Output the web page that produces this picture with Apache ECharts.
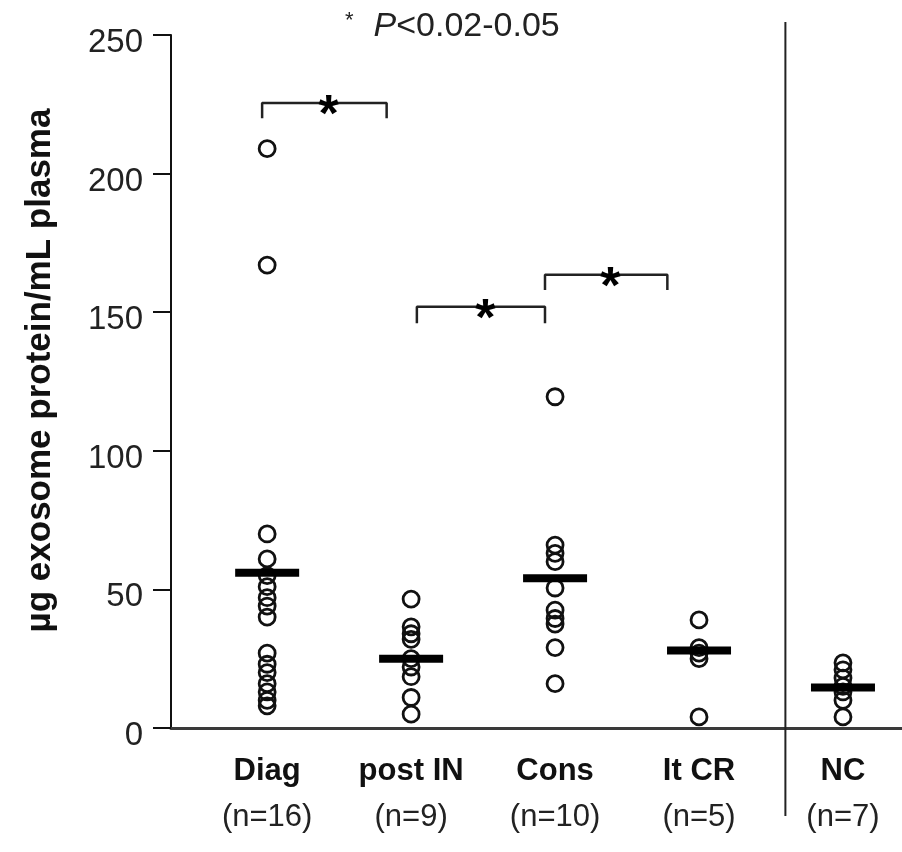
<!DOCTYPE html>
<html>
<head>
<meta charset="utf-8">
<script src="https://cdn.jsdelivr.net/npm/echarts@6/dist/echarts.min.js"></script>
<style>
html,body{margin:0;padding:0;background:#fff;}
#chart{width:902px;height:852px;}
</style>
</head>
<body>
<div id="chart"></div>
<script>
// ---- data ----
const categories = ['Diag', 'post IN', 'Cons', 'It CR', 'NC'];
const nLabels = ['(n=16)', '(n=9)', '(n=10)', '(n=5)', '(n=7)'];
const diag = [209, 167, 70, 61, 55, 51, 47, 44, 40, 27, 23, 20, 16, 13, 10, 8];
const postIN = [46.5, 36.5, 34, 32, 25, 22, 18.5, 11, 5];
const cons = [119.5, 66, 63, 60, 50.5, 42.5, 39.5, 37.5, 29, 16];
const itCR = [39, 29, 27, 25, 4];
const nc = [23.5, 21, 18, 15, 13, 10, 4];
const groupMeans = [56, 25, 54, 28, 14.6];
const yMin = 0, yMax = 250, yStep = 50;
// significance brackets: [xLeft, xRight, top value, leg bottom value]
const brackets = [
  [0.965, 1.83, 225.5, 220],
  [2.04, 2.93, 152, 146],
  [2.93, 3.78, 163.5, 158]
];
const dividerX = 4.6;
const titleParts = ['*', 'P', '<0.02-0.05'];

// ---- build ----
const groups = [diag, postIN, cons, itCR, nc];
const pointData = [];
groups.forEach((g, i) => g.forEach(v => pointData.push([i + 1, v])));
const meanData = groupMeans.map((m, i) => [i + 1, m]);

const FONT = 'Liberation Sans, Arial, Helvetica, sans-serif';
const series = [
  {
    type: 'scatter', data: pointData, symbol: 'circle', symbolSize: 16,
    itemStyle: { color: 'rgba(0,0,0,0)', borderColor: '#111', borderWidth: 2.8, opacity: 1 },
    z: 3
  },
  {
    type: 'scatter', data: meanData, symbol: 'rect', symbolSize: [64, 8],
    itemStyle: { color: '#000', opacity: 1 }, z: 4
  }
];
brackets.forEach(b => {
  series.push({
    type: 'line', symbol: 'none', silent: true,
    data: [[b[0], b[3]], [b[0], b[2]], [b[1], b[2]], [b[1], b[3]]],
    lineStyle: { color: '#222', width: 2.5 }, z: 2
  });
});
series.push({
  type: 'scatter', symbolSize: 1,
  itemStyle: { color: 'rgba(0,0,0,0)', opacity: 1 },
  data: brackets.map(b => [(b[0] + b[1]) / 2 + 0.03, b[2]]),
  label: {
    show: true, position: 'inside', formatter: '*',
    fontSize: 52, fontWeight: 'bold', color: '#000', fontFamily: FONT,
    offset: [0, 14]
  }, z: 5
});

const chart = echarts.init(document.getElementById('chart'));
chart.setOption({
  backgroundColor: '#fff',
  animation: false,
  textStyle: { fontFamily: FONT },
  title: {
    text: '{s|' + titleParts[0] + '}{g|}{p|' + titleParts[1] + '}{t|' + titleParts[2] + '}',
    left: 340, top: 5,
    textStyle: {
      fontWeight: 'normal',
      rich: {
        s: { fontSize: 22, color: '#222', fontFamily: FONT, verticalAlign: 'top', fontWeight: 'normal' },
        g: { width: 20 },
        p: { fontSize: 34, fontStyle: 'italic', color: '#222', fontFamily: FONT, fontWeight: 'normal' },
        t: { fontSize: 34, color: '#222', fontFamily: FONT, fontWeight: 'normal' }
      }
    }
  },
  grid: { left: 171, right: 0, top: 35, bottom: 124, containLabel: false },
  xAxis: {
    type: 'value', min: 0.332, max: 5.41,
    axisLine: { show: true, onZero: false, lineStyle: { color: '#3a3a3a', width: 3 } },
    axisTick: { show: false },
    splitLine: { show: false },
    axisLabel: {
      customValues: [1, 2, 3, 4, 5],
      margin: 20,
      formatter: v => '{b|' + categories[Math.round(v) - 1] + '}\n{n|' + nLabels[Math.round(v) - 1] + '}',
      rich: {
        b: { fontSize: 31, fontWeight: 'bold', color: '#111', lineHeight: 46, fontFamily: FONT },
        n: { fontSize: 31, color: '#222', lineHeight: 46, fontFamily: FONT }
      }
    }
  },
  yAxis: {
    type: 'value', min: yMin, max: yMax, interval: yStep,
    axisLine: { show: true, onZero: false, lineStyle: { color: '#111', width: 2 } },
    axisTick: { show: true, length: 18, lineStyle: { color: '#111', width: 2 } },
    splitLine: { show: false },
    axisLabel: {
      margin: 28,
      formatter: '{a|{value}}',
      rich: { a: { fontSize: 33, color: '#222', fontFamily: FONT, padding: [16, 0, 0, 0] } }
    },
    name: 'µg exosome protein/mL plasma',
    nameLocation: 'middle', nameGap: 113,
    nameTextStyle: { fontSize: 35, fontWeight: 'bold', color: '#111', fontFamily: FONT, padding: [0, 0, 0, 22] }
  },
  series: series
});

const dx = chart.convertToPixel({ xAxisIndex: 0 }, dividerX);
chart.setOption({
  graphic: [{
    type: 'line', shape: { x1: dx, y1: 22, x2: dx, y2: 816 },
    style: { stroke: '#222', lineWidth: 2 }, z: 10
  }]
});
</script>
</body>
</html>
